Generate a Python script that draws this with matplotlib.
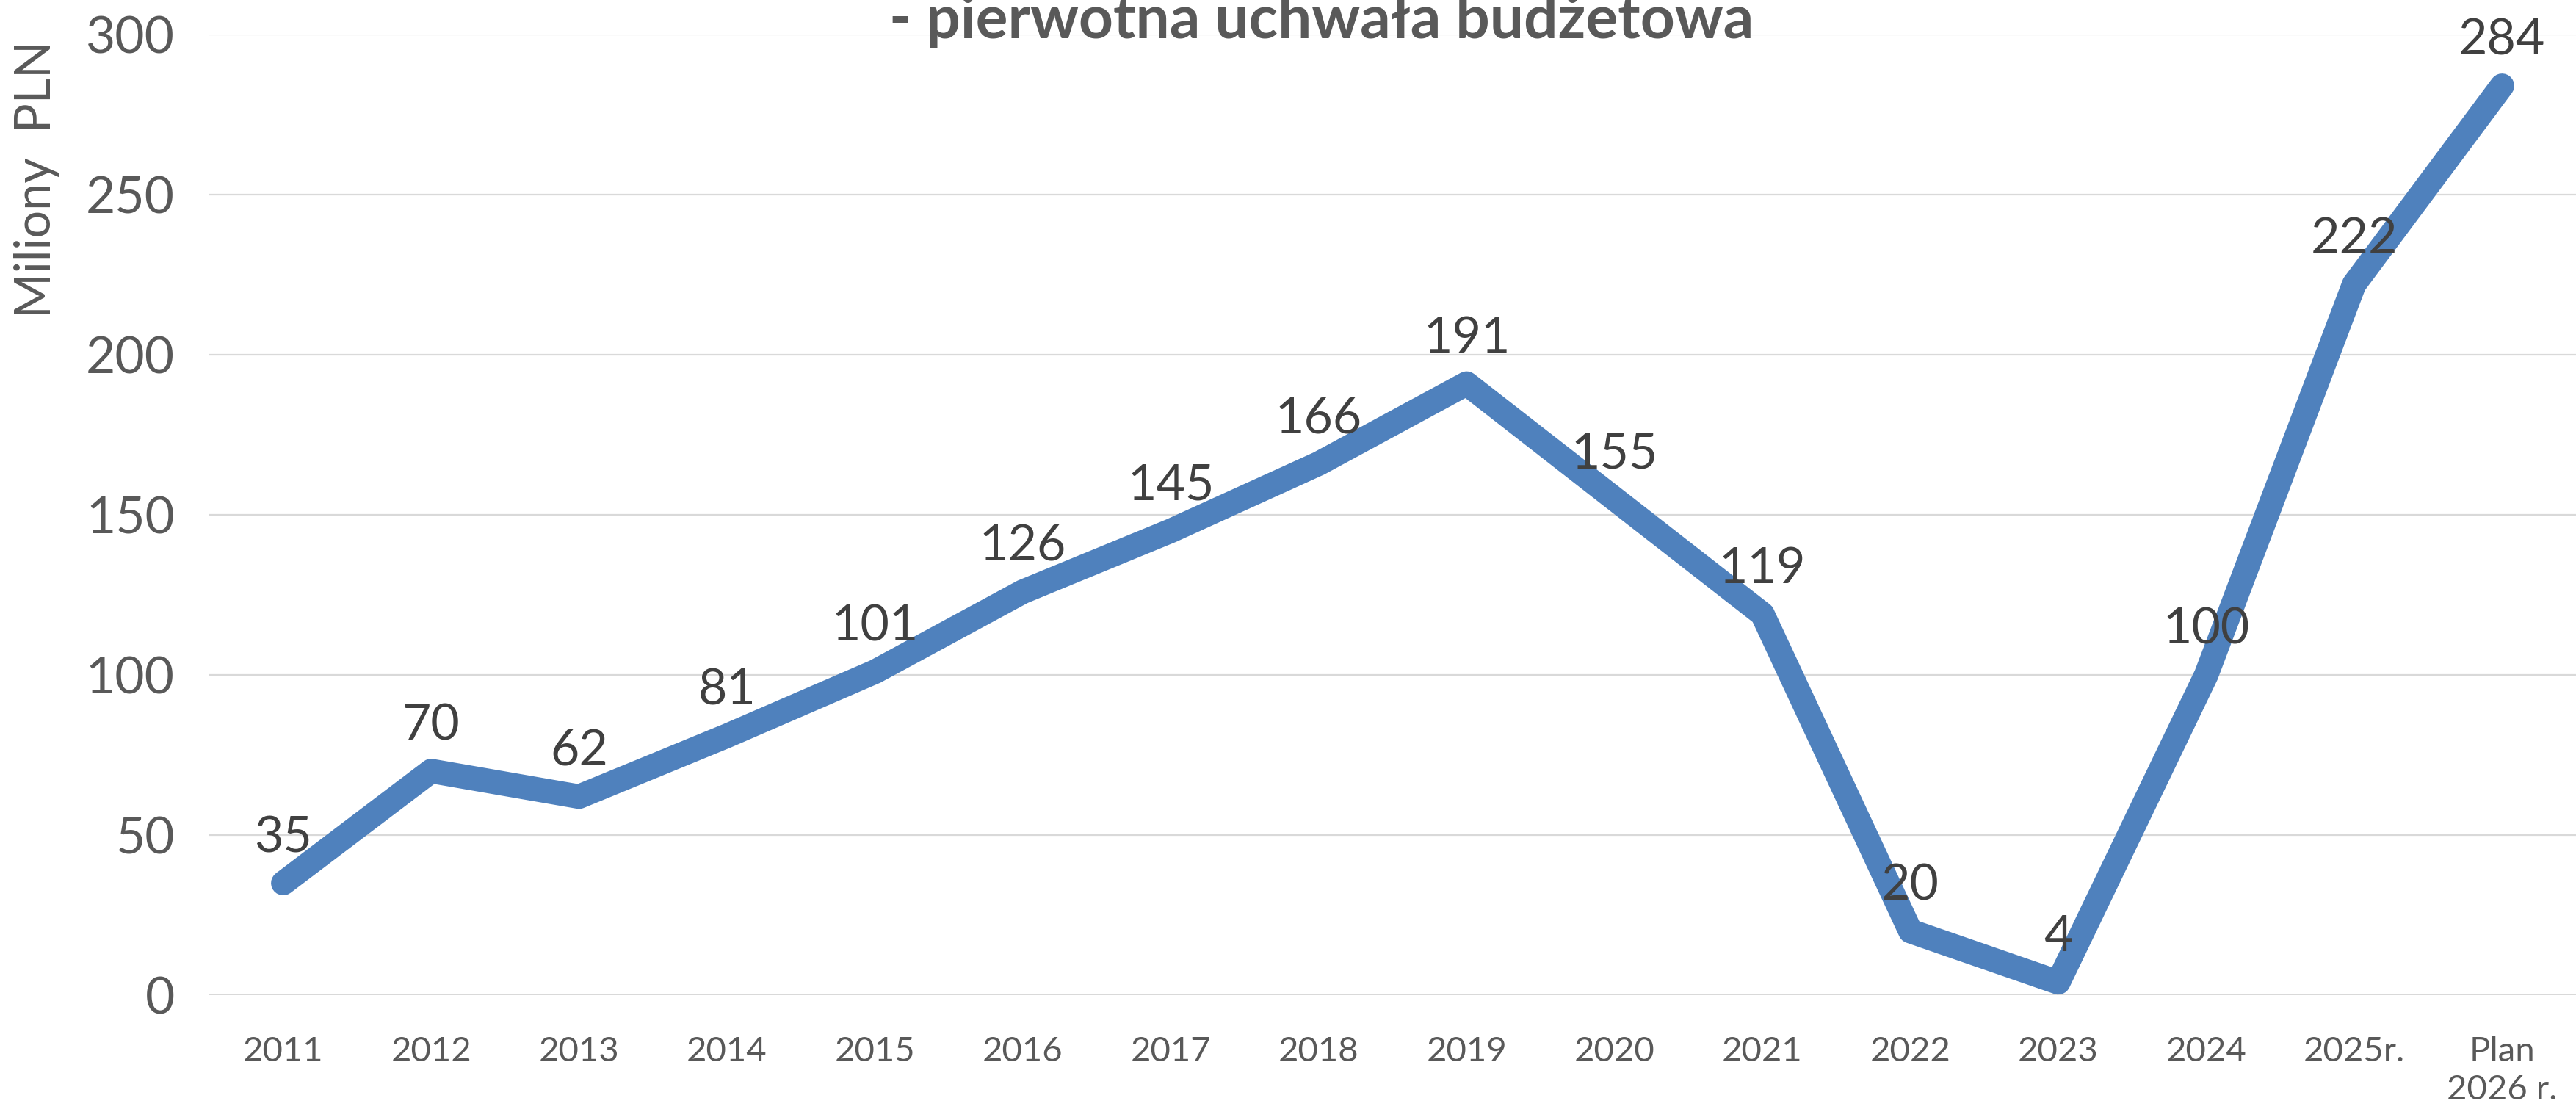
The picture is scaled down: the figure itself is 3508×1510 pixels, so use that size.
import matplotlib
matplotlib.use("Agg")
import matplotlib.pyplot as plt

categories = ["2011", "2012", "2013", "2014", "2015", "2016", "2017", "2018",
              "2019", "2020", "2021", "2022", "2023", "2024", "2025r.", "Plan\n2026 r."]
values = [35, 70, 62, 81, 101, 126, 145, 166, 191, 155, 119, 20, 4, 100, 222, 284]
yticks = [0, 50, 100, 150, 200, 250, 300]
title_text = "- pierwotna uchwała budżetowa"
ylabel_text = "Miliony  PLN"

plt.rcParams['font.family'] = ['Lato', 'DejaVu Sans']

fig = plt.figure(figsize=(35.08, 15.10), dpi=100)
ax = fig.add_axes([285/3508, 1 - 1355/1510, 1 - 285/3508, (1355 - 47)/1510])

x = [i + 0.5 for i in range(len(categories))]
ax.plot(x, values, color="#4F81BD", lw=24, solid_capstyle="round",
        solid_joinstyle="round", zorder=3)

for xi, v in zip(x, values):
    ax.annotate(str(v), (xi, v), xytext=(0, 44), textcoords="offset points",
                ha="center", va="center", fontsize=49, color="#404040", zorder=4)

ax.set_xlim(0, len(categories))
ax.set_ylim(0, 300)
ax.set_yticks(yticks)
ax.set_yticklabels([str(t) for t in yticks], fontsize=50, color="#595959")
ax.set_xticks(x)
ax.set_xticklabels(categories, fontsize=34, color="#595959", linespacing=1.3)
ax.tick_params(axis="both", length=0)
ax.tick_params(axis="y", pad=34)
ax.tick_params(axis="x", pad=40)
ax.grid(axis="y", color="#D9D9D9", lw=1.6, zorder=0)
ax.set_axisbelow(True)
for s in ax.spines.values():
    s.set_visible(False)

fig.text(50/3508, 1 - 244/1510, ylabel_text, rotation=90, ha="center", va="center",
         fontsize=48, color="#595959")

fig.text(1800/3508, 1 - 52/1510, title_text, ha="center", va="baseline",
         fontsize=59, fontweight="bold", color="#595959")

fig.savefig("out.png", dpi=100)
